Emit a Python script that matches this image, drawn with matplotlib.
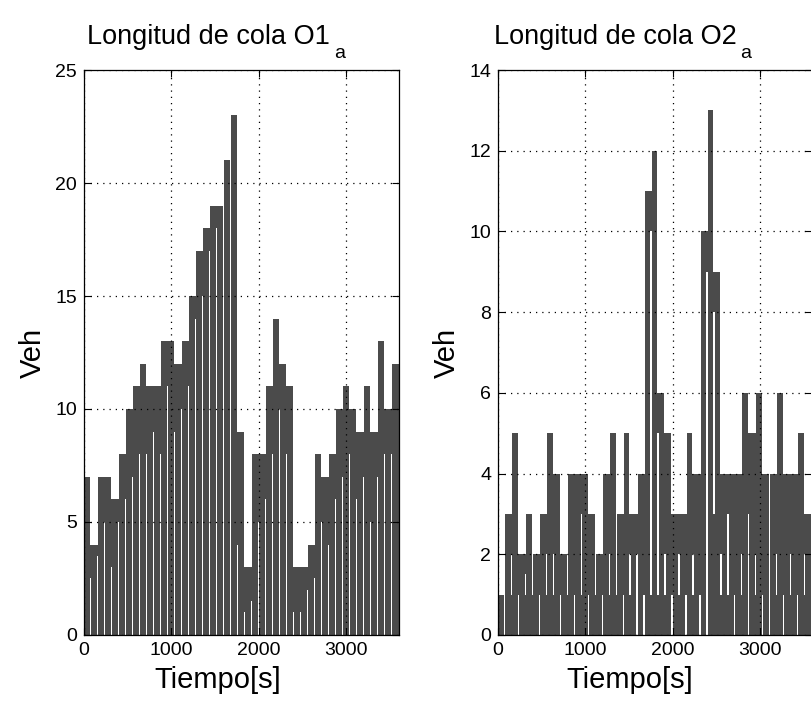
import numpy as np
import matplotlib
matplotlib.use('Agg')
import matplotlib.pyplot as plt

plt.rcParams['font.family'] = ['Liberation Sans', 'DejaVu Sans']

# peak queue per cycle (80 s cycles, 0-3600 s)
t_end = 3600
o1_tops = [7, 4, 7, 7, 6, 8, 10, 11, 12, 11, 11, 13, 13, 12, 13, 15, 17, 18, 19, 19, 21, 23,
           9, 3, 8, 8, 11, 14, 12, 11, 3, 3, 4, 8, 7, 8, 10, 11, 10, 9, 11, 9, 13, 10, 12]
# white gap after each cycle: from gap_lo up to gap_hi
o1_gap_lo = [0] * 45
o1_gap_hi = [2.5, 3.5, 5, 3, 5, 6, 7, 8, 8, 9, 8, 11, 9, 10, 11, 14, 15, 17, 18, 19, 21, 4,
             1, 1.5, 5, 6, 8, 10, 8, 1, 1, 2, 2.5, 5, 4, 6, 7, 8, 6, 7, 5, 7, 8, 8, 0]

o2_tops = [1, 3, 5, 2, 3, 2, 3, 5, 4, 2, 4, 4, 4, 3, 2, 4, 5, 3, 5, 3, 4, 11, 12, 6, 5, 3, 3,
           5, 4, 10, 13, 9, 4, 4, 4, 6, 5, 6, 4, 4, 6, 4, 4, 5, 3]
o2_gap_lo = [0, 1, 0, 1, 1, 0, 1, 1, 0, 1, 0, 1, 0, 1, 0, 1, 1, 0, 1, 0, 0, 1, 1, 1, 0, 1, 0,
             1, 0, 0, 3, 1, 1, 0, 1, 0, 1, 0, 0, 1, 0, 1, 0, 1, 0]
o2_gap_hi = [1, 2, 1, 1.5, 2, 1, 2, 2, 1, 2, 1, 3, 1, 2, 1, 2, 3, 1, 2, 2, 1, 10, 5, 2, 1, 2, 1,
             2, 1, 9, 8, 2, 3, 1, 2, 3, 2, 1, 4, 2, 1, 2, 1, 2, 1]

color = '#4b4b4b'


def draw_queue(ax, tops, gap_lo, gap_hi, gap_w=14):
    n = len(tops)
    dur = t_end / n
    x, lo1, hi1, lo2, hi2 = [], [], [], [], []
    for k in range(n):
        t0 = k * dur
        nxt = tops[k + 1] if k + 1 < n else tops[k]
        shared = min(tops[k], nxt)
        # column
        x.append(t0)
        lo1.append(0); hi1.append(tops[k])
        lo2.append(0); hi2.append(0)
        # gap between this cycle and the next
        x.append(t0 + dur - gap_w)
        lo1.append(0); hi1.append(min(gap_lo[k], shared))
        lo2.append(min(gap_hi[k], shared)); hi2.append(shared)
    x.append(t_end)
    for a in (lo1, hi1, lo2, hi2):
        a.append(a[-1])
    ax.fill_between(x, lo1, hi1, step='post', color=color, lw=0)
    ax.fill_between(x, lo2, hi2, step='post', color=color, lw=0)


def style(ax, ymax, ystep, title, sub, title_end, label_x):
    ax.set_xlim(0, t_end)
    ax.set_ylim(0, ymax)
    ax.set_xticks([0, 1000, 2000, 3000])
    ax.set_yticks(np.arange(0, ymax + 0.1, ystep))
    ax.grid(True, color='black', linestyle=(0, (1, 4)), linewidth=0.9)
    ax.set_axisbelow(False)
    ax.tick_params(direction='in', length=5, width=0.8, top=True, right=True,
                   labelsize=14, pad=5)
    for s in ax.spines.values():
        s.set_linewidth(0.9)
    ax.set_xlabel('Tiempo[s]', fontsize=21)
    ax.xaxis.set_label_coords(label_x, -0.055, transform=ax.transAxes)
    ax.xaxis.label.set_va('top')
    ax.set_ylabel('Veh', fontsize=21, labelpad=6)
    # title with a low subscript, as in the original
    ax.text(title_end, 1.046, title, transform=ax.transAxes, fontsize=19.5,
            ha='right', va='baseline')
    ax.text(title_end + 0.012, 1.021, sub, transform=ax.transAxes, fontsize=14,
            ha='left', va='baseline')


fig = plt.figure(figsize=(8.12, 7.05), dpi=100)
ax1 = fig.add_axes([0.1034, 0.0993, 0.3879, 0.8014])
ax2 = fig.add_axes([0.6133, 0.0993, 0.3871, 0.8014])

draw_queue(ax1, o1_tops, o1_gap_lo, o1_gap_hi)
draw_queue(ax2, o2_tops, o2_gap_lo, o2_gap_hi)
style(ax1, 25, 5, 'Longitud de cola O1', 'a', 0.781, 0.425)
style(ax2, 14, 2, 'Longitud de cola O2', 'a', 0.758, 0.42)

fig.savefig('out.png', dpi=100)
